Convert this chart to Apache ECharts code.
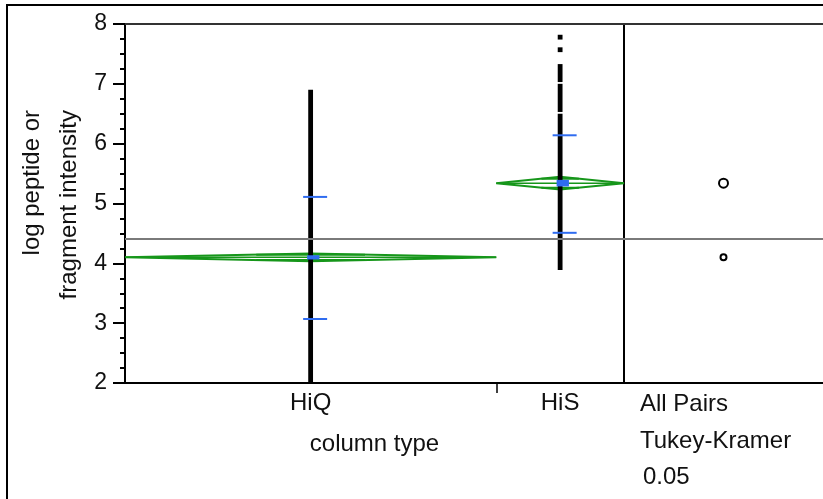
<!DOCTYPE html>
<html>
<head>
<meta charset="utf-8">
<script src="https://cdn.jsdelivr.net/npm/echarts@6/dist/echarts.min.js"></script>
<style>
html,body{margin:0;padding:0;background:#fff;}
#chart{width:823px;height:499px;}
</style>
</head>
<body>
<div id="chart"></div>
<script>
// ---- data ----
const categories = ['HiQ', 'HiS'];
const bandShare = [0.744, 0.256];          // relative band widths (proportional to group size)
const groupMeans = [4.10, 5.34];
const ciHalf = [0.064, 0.106];             // 95% CI half-width (means diamonds)
const seHalf = [0.035, 0.055];             // mean error bar half-height
const sdLower = [3.07, 4.51];
const sdUpper = [5.11, 6.14];
const grandMean = 4.405;
const hiqRuns = [[1.9, 6.86]];             // dense stretches of overlapping points
const hiqSingles = [];
const hisRuns = [[3.93, 6.46], [6.57, 6.96], [7.07, 7.29]];
const hisSingles = [7.57, 7.78];
const circleRadius = [0.05, 0.075];        // comparison circle radii (y units)
const yTicks = { min: 2, max: 8, interval: 1 };
const compareLabels = ['All Pairs', 'Tukey-Kramer', '0.05'];
const xAxisTitle = 'column type';
const yAxisTitle = 'log peptide or\nfragment intensity';

// ---- derived band geometry ----
const bandLeft = [], bandRight = [], bandCenter = [];
let acc = 0;
bandShare.forEach((s, i) => { bandLeft[i] = acc; bandRight[i] = acc + s; bandCenter[i] = acc + s / 2; acc += s; });
const boundaries = bandRight.slice(0, -1);

const FONT = '"Liberation Sans", Arial, sans-serif';
const GREEN = '#16961a';
const BLUE = '#2f6cf0';
const TXT = '#111';

const runsByGroup = [hiqRuns, hisRuns];
const singlesByGroup = [hiqSingles, hisSingles];

const chart = echarts.init(document.getElementById('chart'), null, { renderer: 'canvas' });

const option = {
  backgroundColor: '#fff',
  animation: false,
  graphic: [
    { type: 'rect', shape: { x: 7, y: 5, width: 900, height: 600 }, style: { fill: 'none', stroke: '#000', lineWidth: 2 }, z: 100 },
    { type: 'text', x: 51, y: 110, rotation: Math.PI / 2,
      style: { text: yAxisTitle, font: '24px ' + FONT, fill: TXT, align: 'right', verticalAlign: 'middle', lineHeight: 37 } },
    { type: 'text', left: 640, top: 392, style: { text: compareLabels[0], font: '24px ' + FONT, fill: TXT } },
    { type: 'text', left: 640, top: 429, style: { text: compareLabels[1], font: '24px ' + FONT, fill: TXT } },
    { type: 'text', left: 643, top: 465, style: { text: compareLabels[2], font: '24px ' + FONT, fill: TXT } }
  ],
  grid: [
    { left: 125, top: 24, width: 499, height: 359 },
    { left: 624, top: 24, width: 199, height: 359 }
  ],
  xAxis: [
    {
      gridIndex: 0, type: 'value', min: 0, max: 1, position: 'bottom',
      splitLine: { show: false },
      axisLine: { show: true, lineStyle: { color: '#000', width: 2 } },
      axisTick: { show: true, customValues: boundaries, length: 10, inside: false, lineStyle: { color: '#000', width: 1.5 } },
      axisLabel: {
        show: true, customValues: bandCenter, margin: 8,
        formatter: v => { const i = bandCenter.findIndex(c => Math.abs(c - v) < 1e-6); return i >= 0 ? categories[i] : ''; },
        color: TXT, fontSize: 24, fontFamily: FONT
      },
      name: xAxisTitle, nameLocation: 'middle', nameGap: 49,
      nameTextStyle: { color: TXT, fontSize: 24, fontFamily: FONT }
    },
    {
      gridIndex: 0, type: 'value', min: 0, max: 1, position: 'top',
      splitLine: { show: false }, axisTick: { show: false }, axisLabel: { show: false },
      axisLine: { show: true, lineStyle: { color: '#333', width: 2 } }
    },
    {
      gridIndex: 1, type: 'value', min: 0, max: 1, position: 'bottom',
      splitLine: { show: false }, axisTick: { show: false }, axisLabel: { show: false },
      axisLine: { show: true, lineStyle: { color: '#000', width: 2 } }
    },
    {
      gridIndex: 1, type: 'value', min: 0, max: 1, position: 'top',
      splitLine: { show: false }, axisTick: { show: false }, axisLabel: { show: false },
      axisLine: { show: true, lineStyle: { color: '#333', width: 2 } }
    }
  ],
  yAxis: [
    {
      gridIndex: 0, type: 'value', min: yTicks.min, max: yTicks.max, interval: yTicks.interval,
      splitLine: { show: false },
      axisLine: { show: true, lineStyle: { color: '#000', width: 2 } },
      axisTick: { show: true, length: 12, lineStyle: { color: '#000', width: 2 } },
      minorTick: { show: true, splitNumber: 4, length: 5, lineStyle: { color: '#000', width: 2 } },
      axisLabel: { color: TXT, fontSize: 23, fontFamily: FONT, margin: 18 }
    },
    {
      gridIndex: 1, type: 'value', min: yTicks.min, max: yTicks.max, interval: yTicks.interval,
      splitLine: { show: false }, axisTick: { show: false }, axisLabel: { show: false },
      axisLine: { show: true, lineStyle: { color: '#000', width: 2 } }
    }
  ],
  series: [
    // grand mean line (oneway panel)
    {
      type: 'line', xAxisIndex: 0, yAxisIndex: 0, data: [], z: 1,
      markLine: {
        silent: true, symbol: 'none', label: { show: false },
        lineStyle: { color: '#7a7a7a', width: 2, type: 'solid' },
        data: [{ yAxis: grandMean }]
      }
    },
    // means diamonds + overlap marks
    {
      type: 'custom', xAxisIndex: 0, yAxisIndex: 0, z: 2,
      data: categories.map((c, i) => [bandCenter[i], groupMeans[i], i]),
      renderItem: (params, api) => {
        const i = api.value(2);
        const m = groupMeans[i], c = ciHalf[i];
        const L = api.coord([bandLeft[i], m]);
        const T = api.coord([bandCenter[i], m + c]);
        const R = api.coord([bandRight[i], m]);
        const B = api.coord([bandCenter[i], m - c]);
        const k = 1 / Math.SQRT2;
        const hw = (1 - k) * (bandRight[i] - bandLeft[i]) / 2;
        const o1a = api.coord([bandCenter[i] - hw, m + c * k]);
        const o1b = api.coord([bandCenter[i] + hw, m + c * k]);
        const o2a = api.coord([bandCenter[i] - hw, m - c * k]);
        const o2b = api.coord([bandCenter[i] + hw, m - c * k]);
        const st = { stroke: GREEN, lineWidth: 2, fill: 'none' };
        return {
          type: 'group', children: [
            { type: 'polygon', shape: { points: [L, T, R, B] }, style: st },
            { type: 'line', shape: { x1: L[0], y1: L[1], x2: R[0], y2: R[1] }, style: { stroke: GREEN, lineWidth: 1.5 } },
            { type: 'line', shape: { x1: o1a[0], y1: o1a[1], x2: o1b[0], y2: o1b[1] }, style: { stroke: GREEN, lineWidth: 2 } },
            { type: 'line', shape: { x1: o2a[0], y1: o2a[1], x2: o2b[0], y2: o2b[1] }, style: { stroke: GREEN, lineWidth: 2 } }
          ]
        };
      }
    },
    // raw points (dense runs + isolated points)
    {
      type: 'custom', xAxisIndex: 0, yAxisIndex: 0, z: 3, clip: true,
      data: categories.map((c, i) => [bandCenter[i], groupMeans[i], i]),
      renderItem: (params, api) => {
        const i = api.value(2);
        const half = 2.4;
        const children = [];
        runsByGroup[i].forEach(r => {
          const top = api.coord([bandCenter[i], r[1]]);
          const bot = api.coord([bandCenter[i], r[0]]);
          children.push({ type: 'rect', shape: { x: top[0] - half, y: top[1] - half, width: half * 2, height: bot[1] - top[1] + half * 2 }, style: { fill: '#000' } });
        });
        singlesByGroup[i].forEach(v => {
          const p = api.coord([bandCenter[i], v]);
          children.push({ type: 'rect', shape: { x: p[0] - half, y: p[1] - half, width: half * 2, height: half * 2 }, style: { fill: '#000' } });
        });
        return { type: 'group', children };
      }
    },
    // std dev lines + mean error bars (blue)
    {
      type: 'custom', xAxisIndex: 0, yAxisIndex: 0, z: 4,
      data: categories.map((c, i) => [bandCenter[i], groupMeans[i], i]),
      renderItem: (params, api) => {
        const i = api.value(2);
        const up = api.coord([bandCenter[i], sdUpper[i]]);
        const lo = api.coord([bandCenter[i], sdLower[i]]);
        const mt = api.coord([bandCenter[i], groupMeans[i] + seHalf[i]]);
        const mb = api.coord([bandCenter[i], groupMeans[i] - seHalf[i]]);
        const st = { stroke: BLUE, lineWidth: 2 };
        return {
          type: 'group', children: [
            { type: 'line', shape: { x1: up[0] - 7.5, y1: up[1], x2: up[0] + 16.5, y2: up[1] }, style: st },
            { type: 'line', shape: { x1: lo[0] - 7.5, y1: lo[1], x2: lo[0] + 16.5, y2: lo[1] }, style: st },
            { type: 'rect', shape: { x: mt[0] - 3.5, y: mt[1], width: 12.3, height: mb[1] - mt[1] }, style: { fill: BLUE } }
          ]
        };
      }
    },
    // comparison circles panel
    {
      type: 'custom', xAxisIndex: 2, yAxisIndex: 1, z: 3,
      data: categories.map((c, i) => [0.5, groupMeans[i], i]),
      renderItem: (params, api) => {
        const i = api.value(2);
        const p = api.coord([0.5, groupMeans[i]]);
        const r = api.size([0, circleRadius[i]])[1];
        return { type: 'circle', shape: { cx: p[0], cy: p[1], r: r }, style: { fill: 'none', stroke: '#000', lineWidth: 2 } };
      },
      markLine: {
        silent: true, symbol: 'none', label: { show: false },
        lineStyle: { color: '#7a7a7a', width: 2, type: 'solid' },
        data: [{ yAxis: grandMean }]
      }
    }
  ]
};
chart.setOption(option);
</script>
</body>
</html>
